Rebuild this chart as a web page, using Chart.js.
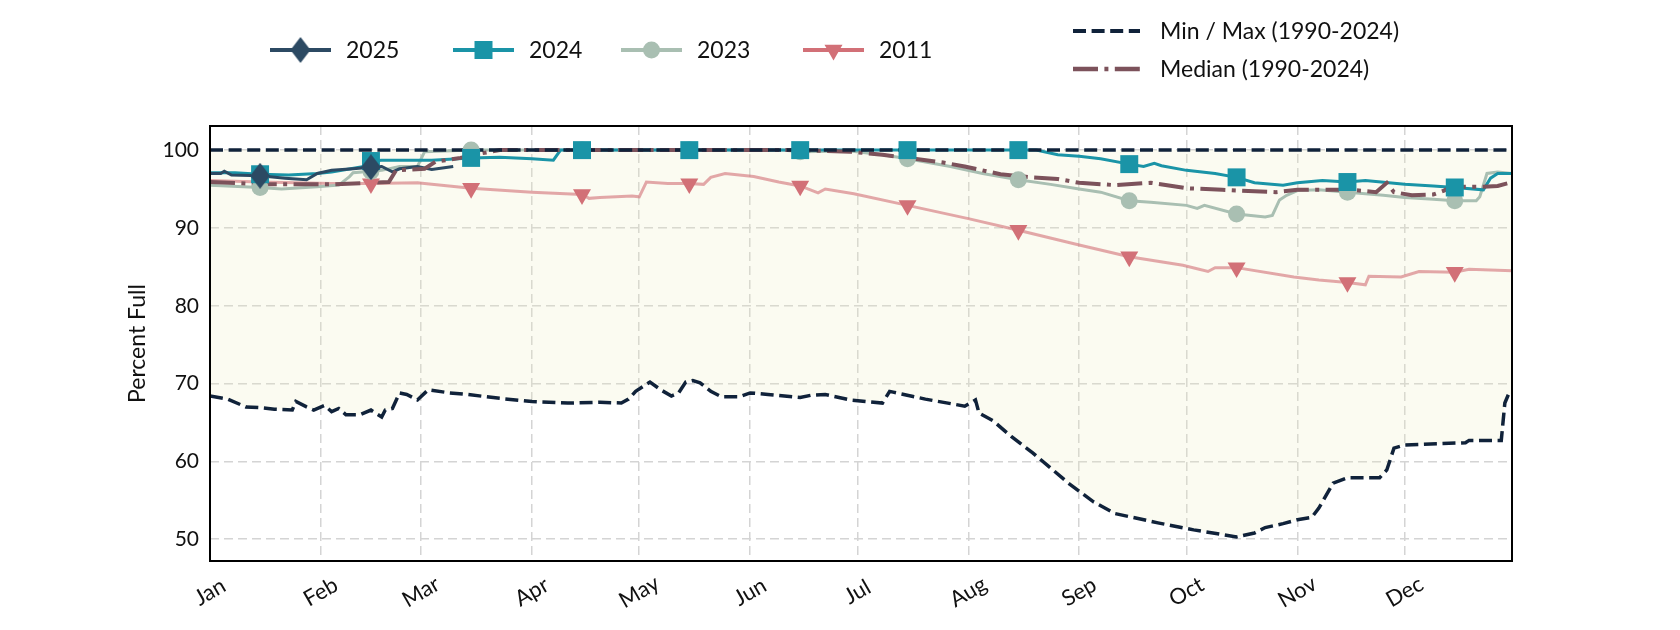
<!DOCTYPE html>
<html>
<head>
<meta charset="utf-8">
<script src="https://cdn.jsdelivr.net/npm/chart.js@4.4.1/dist/chart.umd.min.js"></script>
<style>
  body { margin: 0; background: #fff; }
  #wrap { width: 1680px; height: 630px; }
</style>
</head>
<body>
<div id="wrap"><canvas id="chart" width="1680" height="630"></canvas></div>
<script>
// Reservoir storage, percent full, by day of year (0 = Jan 1)
const monthLabels = ['Jan', 'Feb', 'Mar', 'Apr', 'May', 'Jun', 'Jul', 'Aug', 'Sep', 'Oct', 'Nov', 'Dec'];
const monthStarts = [0, 31, 59, 90, 120, 151, 181, 212, 243, 273, 304, 334];
const yTicks = [50, 60, 70, 80, 90, 100];
const markerDays = [14, 45, 73, 104, 134, 165, 195, 226, 257, 287, 318, 348];

const maxDays = [0, 364];
const maxVals = [100, 100];

const minDays = [0, 5, 10, 14, 18, 23, 24, 27, 29, 32, 34, 36, 38, 42, 45, 48, 49, 51, 53, 55, 58, 61, 67, 72, 81, 90,
  100, 109, 115, 117, 119, 123, 126, 129, 131, 133, 135, 137, 140, 143, 148, 151, 156, 165, 168, 172, 179, 188, 190,
  191, 200, 211, 214, 215, 219, 224, 230, 240, 247, 253, 265, 275, 287, 292, 295, 300, 304, 308, 310, 314, 318, 327,
  329, 331, 334, 351, 352, 361, 362, 363, 364];
const minVals = [68.4, 68.0, 67.0, 66.9, 66.7, 66.6, 67.7, 67.0, 66.6, 67.2, 66.4, 66.8, 66.0, 66.0, 66.6, 65.7, 66.6,
  66.8, 68.8, 68.6, 67.9, 69.2, 68.8, 68.6, 68.1, 67.7, 67.5, 67.6, 67.5, 68.0, 69.0, 70.2, 69.2, 68.4, 68.8, 70.2,
  70.4, 70.1, 69.0, 68.3, 68.3, 68.8, 68.6, 68.2, 68.5, 68.6, 67.9, 67.5, 69.0, 68.9, 68.0, 67.1, 67.9, 66.2, 65.2,
  63.2, 61.1, 57.2, 54.8, 53.3, 52.1, 51.2, 50.3, 50.8, 51.5, 52.0, 52.5, 52.8, 54.0, 57.2, 57.9, 57.9, 58.9, 61.7,
  62.1, 62.4, 62.7, 62.7, 67.5, 68.6, 68.6];

const medDays = [0, 16, 34, 50, 52, 60, 63, 70, 76, 81, 165, 172, 179, 188, 197, 205, 211, 221, 230, 237, 243, 253,
  263, 273, 283, 298, 304, 319, 326, 329, 331, 336, 342, 345, 347, 356, 360, 364];
const medVals = [95.9, 95.6, 95.6, 95.9, 97.4, 97.6, 98.5, 99.0, 99.6, 100, 100, 99.9, 99.8, 99.4, 98.9, 98.4, 97.9,
  96.9, 96.5, 96.3, 95.8, 95.5, 95.8, 95.1, 94.9, 94.6, 94.9, 94.9, 94.6, 95.8, 94.6, 94.2, 94.3, 94.8, 95.3, 95.3,
  95.4, 95.9];

const y2025Days = [0, 3, 4, 6, 14, 21, 27, 30, 34, 40, 45, 48, 51, 53, 58, 62, 68];
const y2025Vals = [97.0, 97.0, 97.3, 96.8, 96.7, 96.4, 96.2, 97.0, 97.4, 97.6, 97.8, 97.9, 97.2, 97.6, 97.9, 97.5, 97.9];

const y2024Days = [0, 7, 14, 22, 30, 34, 43, 45, 48, 62, 73, 81, 90, 96, 98, 104, 134, 165, 195, 226, 231, 237, 243,
  249, 257, 261, 264, 266, 273, 281, 287, 292, 300, 304, 311, 318, 323, 334, 342, 348, 356, 358, 360, 364];
const y2024Vals = [97.1, 97.1, 96.9, 96.8, 97.0, 97.2, 97.9, 98.6, 98.7, 98.7, 99.0, 99.1, 98.9, 98.7, 100, 100, 100,
  100, 100, 100, 100, 99.4, 99.2, 98.9, 98.2, 97.9, 98.3, 98.0, 97.4, 97.0, 96.5, 95.8, 95.5, 95.8, 96.1, 95.9, 96.1,
  95.6, 95.4, 95.2, 94.9, 96.4, 97.0, 97.0];

const y2023Days = [0, 14, 20, 30, 36, 39, 40, 45, 48, 53, 58, 60, 73, 104, 134, 160, 165, 179, 188, 195, 207, 216,
  226, 235, 243, 249, 257, 263, 273, 276, 278, 287, 295, 297, 299, 301, 304, 310, 318, 328, 334, 342, 348, 354, 355,
  357, 360, 364];
const y2023Vals = [95.5, 95.2, 95.0, 95.3, 95.5, 96.6, 97.1, 97.3, 97.4, 97.9, 97.9, 99.8, 100, 100, 100, 100, 99.8,
  99.9, 99.4, 98.9, 97.9, 97.0, 96.2, 95.6, 95.0, 94.6, 93.5, 93.3, 92.9, 92.5, 92.9, 91.8, 91.4, 91.6, 93.6, 94.2,
  94.8, 94.9, 94.6, 94.2, 93.9, 93.7, 93.5, 93.5, 94.0, 97.0, 97.2, 97.0];

const y2011Days = [0, 14, 34, 45, 58, 62, 73, 90, 104, 106, 109, 118, 120, 122, 128, 134, 138, 140, 144, 152, 159,
  165, 170, 172, 180, 195, 212, 226, 243, 257, 272, 279, 281, 287, 303, 310, 318, 323, 324, 333, 338, 348, 352, 364];
const y2011Vals = [96.1, 95.9, 95.7, 95.7, 95.8, 95.6, 95.1, 94.6, 94.3, 93.8, 93.9, 94.1, 94.0, 95.9, 95.7, 95.7,
  95.6, 96.5, 97.0, 96.6, 95.9, 95.4, 94.5, 95.0, 94.4, 92.9, 91.2, 89.7, 87.8, 86.3, 85.2, 84.4, 84.9, 84.9, 83.7,
  83.3, 83.0, 82.7, 83.8, 83.7, 84.4, 84.3, 84.7, 84.5];

const colors = {
  y2025: '#2c4a63',
  y2024: '#1a94a7',
  y2023: '#a9bfb2',
  y2011: '#d27077',
  y2011Line: 'rgba(210,112,119,0.6)',
  minmax: '#10223a',
  median: '#7c525b',
  fill: 'rgba(238,238,190,0.22)',
  grid: '#d4d4d4'
};

const FONT = 'Lato, "Noto Sans", sans-serif';

function points(days, vals) {
  return days.map((d, i) => ({ x: d, y: vals[i] }));
}

function markerPoints(days, vals) {
  return days.map((d, i) => ({ x: d, y: vals[i] })).filter(p => markerDays.includes(p.x));
}

// tall diamond used for 2025
function makeDiamond(color, w, h) {
  const c = document.createElement('canvas');
  c.width = w;
  c.height = h;
  const g = c.getContext('2d');
  g.fillStyle = color;
  g.beginPath();
  g.moveTo(w / 2, 0);
  g.lineTo(w, h / 2);
  g.lineTo(w / 2, h);
  g.lineTo(0, h / 2);
  g.closePath();
  g.fill();
  return c;
}
const diamond = makeDiamond(colors.y2025, 20, 26);

function lineSet(label, days, vals, color, order, extra) {
  return Object.assign({
    label: label,
    data: points(days, vals),
    borderColor: color,
    borderWidth: 3,
    pointRadius: 0,
    tension: 0,
    fill: false,
    order: order
  }, extra || {});
}

function markerSet(label, days, vals, color, style, radius, order) {
  return {
    label: label,
    data: markerPoints(days, vals),
    showLine: false,
    pointStyle: style,
    pointRadius: radius,
    pointBackgroundColor: color,
    pointBorderWidth: 0,
    pointRotation: style === 'triangle' ? 180 : 0,
    order: order,
    clip: false
  };
}

const datasets = [
  lineSet('Max', maxDays, maxVals, colors.minmax, 4, {
    borderWidth: 3.5, borderDash: [13, 5.6], fill: '+1', backgroundColor: colors.fill
  }),
  lineSet('Min', minDays, minVals, colors.minmax, 5, { borderWidth: 3.5, borderDash: [13, 5.6] }),
  lineSet('Median', medDays, medVals, colors.median, 6, { borderWidth: 4, borderDash: [25, 6.4, 4, 6.4] }),
  lineSet('2011', y2011Days, y2011Vals, colors.y2011Line, 10),
  lineSet('2023', y2023Days, y2023Vals, colors.y2023, 9),
  lineSet('2024', y2024Days, y2024Vals, colors.y2024, 8),
  lineSet('2025', y2025Days, y2025Vals, colors.y2025, 7),
  markerSet('2011 m', y2011Days, y2011Vals, colors.y2011, 'triangle', 10.4, 3),
  markerSet('2023 m', y2023Days, y2023Vals, colors.y2023, 'circle', 8.5, 2),
  markerSet('2024 m', y2024Days, y2024Vals, colors.y2024, 'rect', 12.7, 1),
  markerSet('2025 m', y2025Days, y2025Vals, colors.y2025, diamond, 12, 0)
];

function drawMarker(ctx, style, x, y, color) {
  ctx.fillStyle = color;
  ctx.beginPath();
  if (style === 'diamond') {
    ctx.drawImage(diamond, x - 10, y - 13);
    return;
  } else if (style === 'rect') {
    ctx.rect(x - 9, y - 9, 18, 18);
  } else if (style === 'circle') {
    ctx.arc(x, y, 8.5, 0, Math.PI * 2);
  } else if (style === 'triangleDown') {
    ctx.moveTo(x - 9, y - 5.2);
    ctx.lineTo(x + 9, y - 5.2);
    ctx.lineTo(x, y + 10.4);
    ctx.closePath();
  }
  ctx.fill();
}

// frame, month labels and legends
const decorations = {
  id: 'decorations',
  afterDraw(chart) {
    const ctx = chart.ctx;
    const a = chart.chartArea;
    const xs = chart.scales.x;

    ctx.save();
    ctx.strokeStyle = '#000';
    ctx.lineWidth = 2;
    ctx.setLineDash([]);
    ctx.strokeRect(a.left, a.top, a.right - a.left, a.bottom - a.top);

    ctx.fillStyle = '#111';
    ctx.font = '22px ' + FONT;
    ctx.textAlign = 'center';
    ctx.textBaseline = 'middle';
    monthStarts.forEach((d, i) => {
      ctx.save();
      ctx.translate(xs.getPixelForValue(d), a.bottom + 31);
      ctx.rotate(-Math.PI / 6);
      ctx.fillText(monthLabels[i], 0, 0);
      ctx.restore();
    });

    // year legend
    const legendY = 50;
    const items = [
      { text: '2025', color: colors.y2025, style: 'diamond', x: 270 },
      { text: '2024', color: colors.y2024, style: 'rect', x: 453 },
      { text: '2023', color: colors.y2023, style: 'circle', x: 621 },
      { text: '2011', color: colors.y2011, style: 'triangleDown', x: 803 }
    ];
    ctx.font = '23px ' + FONT;
    ctx.textAlign = 'left';
    items.forEach(it => {
      ctx.strokeStyle = it.color;
      ctx.lineWidth = 4;
      ctx.setLineDash([]);
      ctx.beginPath();
      ctx.moveTo(it.x, legendY);
      ctx.lineTo(it.x + 61, legendY);
      ctx.stroke();
      drawMarker(ctx, it.style, it.x + 30.5, legendY, it.color);
      ctx.fillStyle = '#111';
      ctx.fillText(it.text, it.x + 76, legendY + 1);
    });

    // reference legend
    const refs = [
      { text: 'Min / Max (1990-2024)', color: colors.minmax, dash: [13, 5.6], width: 4, y: 31 },
      { text: 'Median (1990-2024)', color: colors.median, dash: [25, 6.4, 4, 6.4], width: 4.5, y: 69 }
    ];
    refs.forEach(r => {
      ctx.strokeStyle = r.color;
      ctx.lineWidth = r.width;
      ctx.setLineDash(r.dash);
      ctx.beginPath();
      ctx.moveTo(1073, r.y);
      ctx.lineTo(1140, r.y);
      ctx.stroke();
      ctx.setLineDash([]);
      ctx.fillStyle = '#111';
      ctx.fillText(r.text, 1160, r.y + 1);
    });
    ctx.restore();
  }
};

new Chart(document.getElementById('chart'), {
  type: 'line',
  data: { datasets: datasets },
  options: {
    responsive: false,
    devicePixelRatio: 1,
    animation: false,
    events: [],
    layout: { padding: { left: 120, top: 126, right: 168, bottom: 0 } },
    scales: {
      x: {
        type: 'linear',
        min: 0,
        max: 364,
        afterBuildTicks: axis => { axis.ticks = monthStarts.map(v => ({ value: v })); },
        afterFit: axis => { axis.height = 69; },
        ticks: { display: false },
        grid: { color: colors.grid, lineWidth: 1.5, drawTicks: false },
        border: { display: false, dash: [9, 5] }
      },
      y: {
        min: 47.2,
        max: 103.1,
        afterBuildTicks: axis => { axis.ticks = yTicks.map(v => ({ value: v })); },
        afterFit: axis => { axis.width = 90; },
        ticks: { color: '#111', font: { family: FONT, size: 21 }, padding: 11 },
        grid: { color: colors.grid, lineWidth: 1.5, drawTicks: false },
        border: { display: false, dash: [9, 5] },
        title: { display: true, text: 'Percent Full', color: '#111', font: { family: FONT, size: 23 } }
      }
    },
    plugins: {
      legend: { display: false },
      tooltip: { enabled: false },
      filler: { drawTime: 'beforeDatasetsDraw' }
    }
  },
  plugins: [decorations]
});
</script>
</body>
</html>
